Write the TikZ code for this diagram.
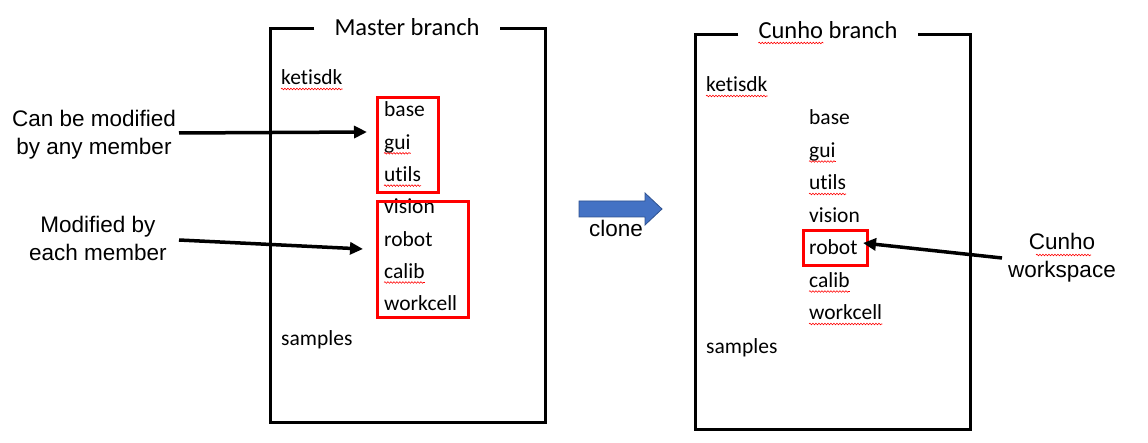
\documentclass[tikz,border=0pt]{standalone}
\usepackage{fontspec}
\setmainfont{Carlito}[Ligatures=NoCommon]
\newfontfamily\arialfont{Liberation Sans}
\usetikzlibrary{%
		arrows.meta%
		,decorations.pathmorphing%
	}

\definecolor{clonefill}{RGB}{68,114,196}
\definecolor{cloneline}{RGB}{47,82,143}

\tikzset{
	item/.style={anchor=base west, inner sep=0pt, font=\fontsize{21.5}{26}\selectfont},
	branchtitle/.style={anchor=base, inner xsep=20pt, inner ysep=0pt, font=\fontsize{24.5}{29}\selectfont},
	frame/.style={line width=3pt},
	redbox/.style={draw=red, line width=3pt},
	note/.style={anchor=base, align=center, inner sep=0pt, font=\arialfont\fontsize{22.5}{28}\selectfont},
	pointer/.style={line width=3.5pt, -{Triangle[length=13pt,width=12pt]}},
	spell/.style={red, line width=0.6pt, decorate, decoration={snake, amplitude=0.8pt, segment length=3pt}},
}

\begin{document}
\begin{tikzpicture}[x=1pt, y=-1pt]
			\useasboundingbox (0,0) rectangle (1148,443);

			% Master branch
			\node[branchtitle] (mtitle) at (407,36) {Master branch};
			\draw[frame] (mtitle.west |- 0,29) -- (270,29) -- (270,422) -- (545,422) -- (545,29) -- (mtitle.east |- 0,29);
			\node[item] (mketisdk) at (281,85) {ketisdk};
			\foreach \name [count=\i from 0] in {base, gui, utils, vision, robot, calib, workcell}	{
				\node[item] (m\name) at (384,117+32.3*\i) {\name};
			}
			\node[item] (msamples) at (281,346) {samples};

			% Cunho branch
			\node[branchtitle] (ctitle) at (828,39) {Cunho branch};
			\draw[frame] (ctitle.west |- 0,35) -- (695,35) -- (695,429) -- (970,429) -- (970,35) -- (ctitle.east |- 0,35);
			\node[item] (cketisdk) at (706,92) {ketisdk};
			\foreach \name [count=\i from 0] in {base, gui, utils, vision, robot, calib, workcell}	{
				\node[item] (c\name) at (809,125+32.5*\i) {\name};
			}
			\node[item] (csamples) at (706,353) {samples};

			% Spelling marks
			\foreach \w in {mketisdk, mgui, mutils, mcalib, cketisdk, cgui, cutils, ccalib, cworkcell}	{
				\draw[spell] ([yshift=-4pt]\w.base west) -- ([yshift=-4pt]\w.base east);
			}
			\path (ctitle.base west) ++(20,0) coordinate (cunhoa);
			\draw[spell] ([yshift=-4pt]cunhoa) -- ++(65,0);

			% Red boxes
			\draw[redbox] (377,98) rectangle (438,193);
			\draw[redbox] (377,202) rectangle (468,318);
			\draw[redbox] (803,231) rectangle (867,266);

			% Labels and pointers
			\node[note] (anylbl) at (94,155) {Can be modified\\by any member};
			\node[note] (eachlbl) at (98,261) {Modified by\\each member};
			\node[note] (wslbl) at (1062,278) {Cunho\\workspace};
			\draw[spell] ([yshift=-5pt]1036,250) -- ++(55,0);

			\coordinate (anyout) at (179,133);
			\coordinate (anyin) at (367,132);
			\coordinate (eachout) at (179,240);
			\coordinate (eachin) at (363,249);
			\coordinate (wsout) at (1002,258);
			\coordinate (wsin) at (863,243);
			\draw[pointer] (anyout) -- (anyin);
			\draw[pointer] (eachout) -- (eachin);
			\draw[pointer] (wsout) -- (wsin);

			% Clone
			\filldraw[fill=clonefill, draw=cloneline, line width=0.8pt] (579,201) -- (645,201) -- (645,193) -- (662,209) -- (645,225) -- (645,217) -- (579,217) -- cycle;
			\node[anchor=base west, inner sep=0pt, font=\arialfont\fontsize{22.5}{28}\selectfont] (clonelbl) at (589,237) {clone};
		\end{tikzpicture}
\end{document}
